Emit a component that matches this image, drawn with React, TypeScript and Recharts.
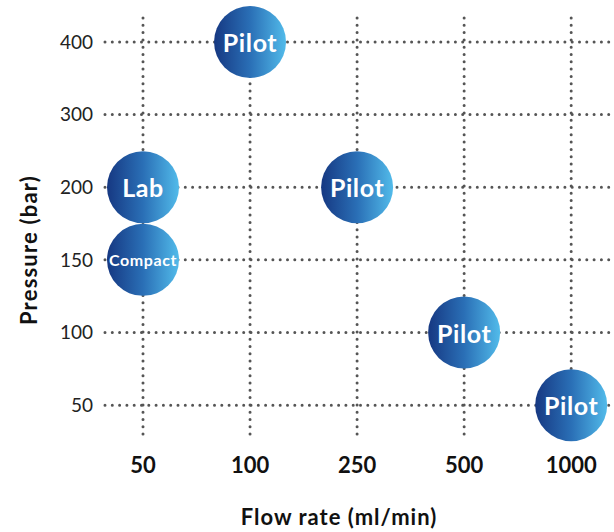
import React from 'react';
import { ScatterChart, Scatter, XAxis, YAxis, CartesianGrid, Label } from 'recharts';

// tick labels (both axes are evenly spaced categories)
const flowLabels = ['50', '100', '250', '500', '1000'];
const pressureLabels = ['50', '100', '150', '200', '300', '400'];

// systems
const systemNames = ['Pilot', 'Lab', 'Pilot', 'Compact', 'Pilot', 'Pilot'];
const systemFlow = ['100', '50', '250', '50', '500', '1000'];
const systemPressure = ['400', '200', '200', '150', '100', '50'];

const data = systemNames.map((name, i) => ({
  name,
  x: flowLabels.indexOf(systemFlow[i]),
  y: pressureLabels.indexOf(systemPressure[i]),
}));

const FONT = 'Lato, "Noto Sans", sans-serif';

const Bubble = (props: any) => {
  const { cx, cy, payload } = props;
  const small = payload.name.length > 5;
  return (
    <g>
      <circle cx={cx} cy={cy} r={36} fill="url(#bubbleGrad)" />
      <text
        x={cx}
        y={cy}
        textAnchor="middle"
        dominantBaseline="central"
        fill="#fff"
        fontFamily={FONT}
        fontWeight={700}
        fontSize={small ? 16 : 25}
        letterSpacing={small ? 0.6 : 0.6}
      >
        {payload.name}
      </text>
    </g>
  );
};

export default function App() {
  return (
    <div style={{ position: 'absolute', left: 0, top: 0, background: '#fff' }}>
      <ScatterChart width={614} height={532} margin={{ top: 18, right: 0, left: 0, bottom: 0 }}>
        <defs>
          <linearGradient id="bubbleGrad" x1="0" y1="0" x2="1" y2="0">
            <stop offset="0%" stopColor="#163882" />
            <stop offset="50%" stopColor="#2a6fb6" />
            <stop offset="100%" stopColor="#52bbea" />
          </linearGradient>
        </defs>
        <CartesianGrid
          stroke="#555"
          strokeWidth={3}
          strokeDasharray="0 7.3"
          strokeLinecap="round"
          syncWithTicks
        />
        <XAxis
          type="number"
          dataKey="x"
          domain={[-0.355, 4.4]}
          ticks={[0, 1, 2, 3, 4]}
          tickFormatter={(v) => flowLabels[v]}
          axisLine={false}
          tickLine={false}
          tickSize={0}
          tickMargin={17}
          height={92}
          tick={{ fontSize: 22, fontWeight: 700, fill: '#111', fontFamily: FONT }}
        >
          <Label
            content={() => (
              <text
                x={339}
                y={516}
                textAnchor="middle"
                dominantBaseline="central"
                fontFamily={FONT}
                fontWeight={700}
                fontSize={22}
                letterSpacing={1}
                fill="#111"
              >
                Flow rate (ml/min)
              </text>
            )}
          />
        </XAxis>
        <YAxis
          type="number"
          dataKey="y"
          domain={[-0.48, 5.33]}
          ticks={[0, 1, 2, 3, 4, 5]}
          tickFormatter={(v) => pressureLabels[v]}
          axisLine={false}
          tickLine={false}
          tickSize={0}
          tickMargin={12}
          width={105}
          tick={{ fontSize: 19, fill: '#222', fontFamily: FONT }}
        >
          <Label
            content={() => (
              <text
                x={28}
                y={250}
                transform="rotate(-90 28 250)"
                textAnchor="middle"
                dominantBaseline="central"
                fontFamily={FONT}
                fontWeight={700}
                fontSize={22}
                letterSpacing={1.2}
                fill="#111"
              >
                Pressure (bar)
              </text>
            )}
          />
        </YAxis>
        <Scatter data={data} shape={Bubble} isAnimationActive={false} />
      </ScatterChart>
    </div>
  );
}
